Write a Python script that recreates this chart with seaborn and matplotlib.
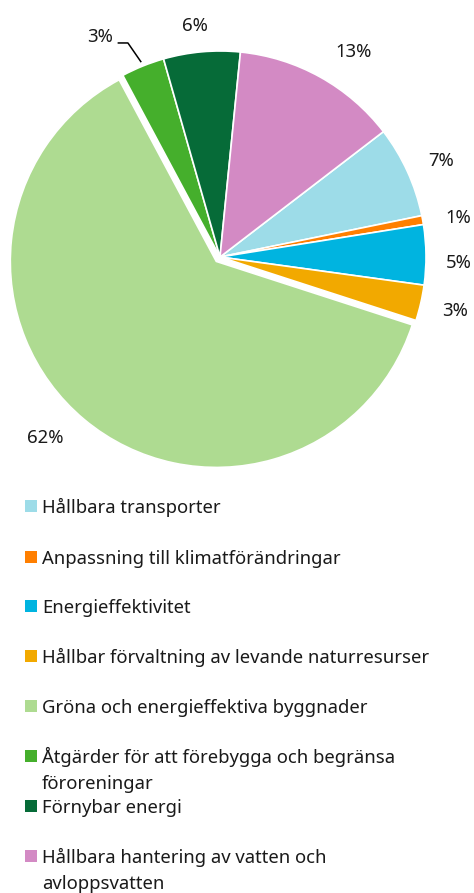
import numpy as np
import matplotlib
matplotlib.use("Agg")
from matplotlib import pyplot as plt
from matplotlib.patches import Rectangle
import seaborn as sns

sns.set_theme(style="white")
plt.rcParams['font.family'] = ['Noto Sans', 'DejaVu Sans']

# data
categories = ["Hållbara transporter",
              "Anpassning till klimatförändringar",
              "Energieffektivitet",
              "Hållbar förvaltning av levande naturresurser",
              "Gröna och energieffektiva byggnader",
              "Åtgärder för att förebygga och begränsa\nföroreningar",
              "Förnybar energi",
              "Hållbara hantering av vatten och\navloppsvatten"]
shares = [7.2, 0.7, 4.7, 2.8, 62.2, 3.4, 6.0, 13.0]
pct_labels = ["7%", "1%", "5%", "3%", "62%", "3%", "6%", "13%"]
colors = ["#9DDCE8", "#FF7F00", "#00B4E0", "#F2A900",
          "#AEDB91", "#45AF2C", "#066B38", "#D38AC4"]

explode = [0, 0, 0, 0, 0.028, 0, 0, 0]
# label radius and angle nudge per slice (None = leader line label)
lab_r = [1.17, 1.17, 1.16, 1.17, 1.22, None, 1.13, 1.19]
lab_da = [-1, -1, -2, 0, -4, 0, 1, -4]
fs = 13.3

W, H = 474, 893
fig = plt.figure(figsize=(W / 100, H / 100), dpi=100)

# pie axes: centre at px (220, 257), radius 206 px
cx, cy, R = 220, 257, 206
top_h = 480
ax = fig.add_axes([0, (H - top_h) / H, 1, top_h / H])
wedges, _ = ax.pie(shares, colors=sns.color_palette(colors), startangle=37.5,
                   counterclock=False, explode=explode,
                   wedgeprops=dict(edgecolor="white", linewidth=1.2))
ax.set_aspect("auto")
ax.set_xlim(-cx / R, (W - cx) / R)
ax.set_ylim(-(top_h - cy) / R, cy / R)
ax.axis("off")

for i, w in enumerate(wedges):
    mid = (w.theta1 + w.theta2) / 2
    if lab_r[i] is None:
        # leader line for the small green slice
        a = np.deg2rad(mid)
        ex, ey = 1.02 * np.cos(a), 1.02 * np.sin(a)
        kx, ky = -0.447, 1.039
        ax.plot([ex, kx, kx - 0.05], [ey, ky, ky], color="black", lw=1.1,
                solid_capstyle="butt", clip_on=False)
        ax.text(kx - 0.07, ky + 0.03, pct_labels[i], ha="right", va="center",
                fontsize=fs, color="#1a1a1a")
        continue
    a = np.deg2rad(mid + lab_da[i])
    ax.text(lab_r[i] * np.cos(a), lab_r[i] * np.sin(a), pct_labels[i],
            ha="center", va="center", fontsize=fs, color="#1a1a1a")

# legend drawn by hand with fixed row spacing
lax = fig.add_axes([0, 0, 1, 1])
lax.set_xlim(0, W)
lax.set_ylim(H, 0)
lax.axis("off")
row_y = [506, 557, 606, 656, 706, 756, 806, 856]
for i, (lab, col) in enumerate(zip(categories, colors)):
    y = row_y[i]
    lax.add_patch(Rectangle((25, y - 6), 12, 12, color=col, lw=0))
    for j, line in enumerate(lab.split("\n")):
        lax.text(42, y + 7 + 26 * j, line, ha="left", va="baseline",
                 fontsize=fs, color="#1a1a1a")

fig.savefig("out.png", dpi=100)
